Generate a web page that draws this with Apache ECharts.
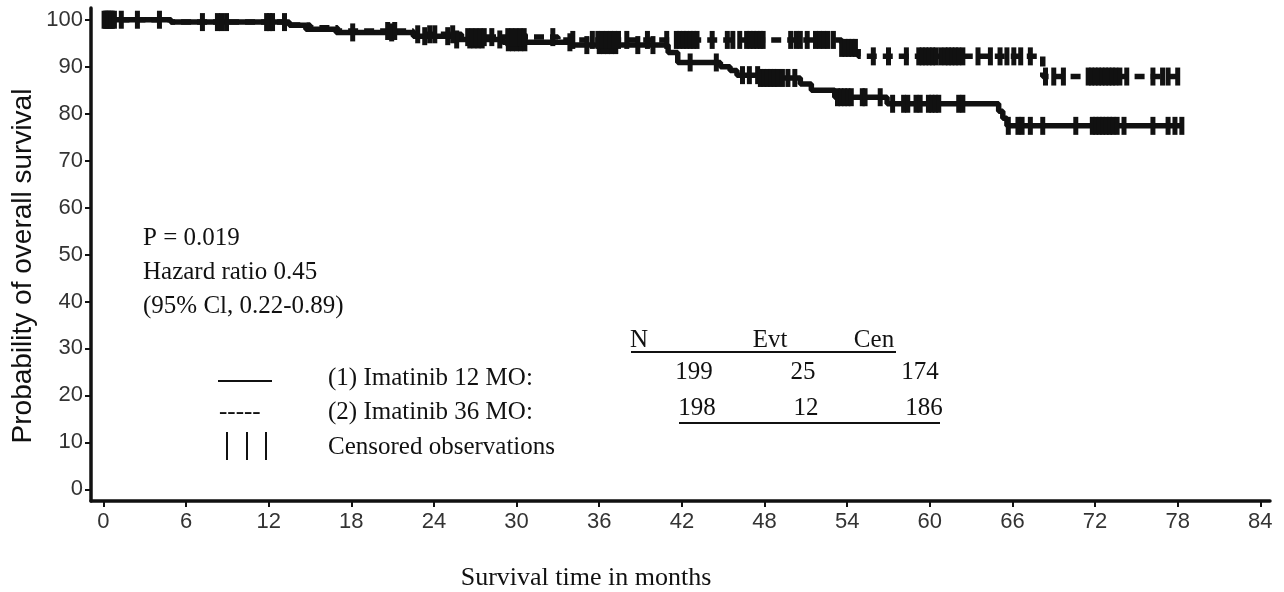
<!DOCTYPE html>
<html>
<head>
<meta charset="utf-8">
<script src="https://cdn.jsdelivr.net/npm/echarts@6/dist/echarts.min.js"></script>
<style>
html,body{margin:0;padding:0;background:#fff;}
#chart{width:1284px;height:592px;}
</style>
</head>
<body>
<div id="chart"></div>
<script>
// ---- Data ----
const xTicks = [0, 6, 12, 18, 24, 30, 36, 42, 48, 54, 60, 66, 72, 78, 84];
const yTicks = [0, 10, 20, 30, 40, 50, 60, 70, 80, 90, 100];

// (1) Imatinib 12 MO  – step times (months) and survival (%) after each step
const g1Times = [0, 4.9, 13.5, 14.7, 16.9, 22.5, 25.5, 29, 34, 41.0, 41.7, 44.8, 45.5, 46.0, 47.6, 50.6, 51.4, 53.1, 56.9, 65.0, 65.3, 65.6];
const g1Surv  = [100, 99.5, 98.8, 98.0, 97.3, 96.5, 95.8, 95.2, 94.6, 93.0, 90.9, 90.0, 89.2, 88.2, 87.6, 86.3, 85.0, 83.5, 82.1, 80.5, 79.0, 77.4];
const g1End = 78.4;
const g1Censor = [0.05, 0.25, 0.45, 0.65, 2.47, 7.19, 8.58, 12.06, 18.1, 20.93, 23.33, 25.0, 25.65,
  26.6, 26.9, 27.2, 27.5, 28.78, 29.4, 29.7, 30.0, 30.3, 30.6, 33.87, 35.1, 36.0, 36.3, 36.6, 36.9, 37.2,
  38.8, 39.9, 42.6, 44.5, 46.4, 46.9, 47.5, 47.7, 47.95, 48.2, 48.45, 48.7, 48.95, 49.3, 49.7, 50.2,
  53.3, 53.55, 53.8, 54.05, 54.3, 55.1, 55.3, 56.4, 57.3, 58.1, 58.4, 59.0, 59.3, 59.9, 60.15, 60.4, 60.65,
  62.1, 62.4, 65.7, 66.4, 66.7, 67.3, 68.2, 70.6, 71.8, 72.05, 72.3, 72.55, 72.8, 73.05, 73.3, 73.6, 74.1,
  76.2, 77.3, 77.8, 78.3];

// (2) Imatinib 36 MO
const g2Times = [0, 4.9, 13.5, 15.0, 17.0, 22.5, 26.0, 33.0, 53.6, 54.8, 68.2];
const g2Surv  = [100, 99.5, 98.9, 98.3, 97.6, 96.9, 96.3, 95.7, 94.0, 92.2, 87.9];
const g2End = 78.0;
const g2Censor = [0.15, 0.35, 0.55, 0.8, 1.3, 4.07, 8.28, 8.94, 11.85, 12.28, 13.15, 20.64, 21.15, 22.82,
  23.69, 24.06, 25.36, 26.45, 26.75, 27.05, 27.35, 27.65, 28.2, 29.36, 29.65, 29.95, 30.25, 30.55, 32.63,
  34.08, 35.5, 35.9, 36.2, 36.5, 36.8, 37.1, 37.4, 38.0, 39.5, 40.9, 41.6, 41.85, 42.1, 42.35, 42.6, 42.85,
  43.1, 44.2, 45.3, 45.7, 46.2, 46.7, 46.95, 47.2, 47.45, 47.7, 47.9, 49.9, 50.3, 50.6, 51.1, 51.7, 52.0,
  52.3, 52.6, 53.0, 53.6, 53.85, 54.1, 54.35, 54.6, 55.9, 57.0, 58.3, 59.2, 59.45, 59.7, 59.95, 60.2, 60.45,
  60.8, 61.1, 61.35, 61.6, 61.85, 62.1, 62.4, 63.5, 64.4, 65.1, 65.6, 66.1, 66.6, 67.3, 68.4, 69.0, 69.7,
  71.5, 71.75, 72.0, 72.25, 72.5, 72.75, 73.0, 73.25, 73.5, 73.8, 74.3, 76.2, 76.9, 77.3, 78.0];

const statLines = ['P = 0.019', 'Hazard ratio 0.45', '(95% Cl, 0.22-0.89)'];
const groupLabels = ['(1) Imatinib 12 MO:', '(2) Imatinib 36 MO:', 'Censored observations'];
const tableHeader = ['N', 'Evt', 'Cen'];
const tableRow1 = ['199', '25', '174'];
const tableRow2 = ['198', '12', '186'];
const xTitle = 'Survival time in months';
const yTitle = 'Probability of overall survival';

// ---- helpers ----
function stepData(times, surv, end) {
  const d = times.map((t, i) => [t, surv[i]]);
  d.push([end, surv[surv.length - 1]]);
  return d;
}
function survAt(times, surv, t) {
  let s = surv[0];
  for (let i = 0; i < times.length; i++) { if (times[i] <= t) s = surv[i]; }
  return s;
}
const censor1 = g1Censor.map(t => [t, survAt(g1Times, g1Surv, t)]);
const censor2 = g2Censor.map(t => [t, survAt(g2Times, g2Surv, t)]);

const SANS = '"Liberation Sans", Arial, sans-serif';
const SERIF = '"Liberation Serif", "Times New Roman", serif';
const INK = '#111';

const chart = echarts.init(document.getElementById('chart'), null, {renderer: 'canvas'});

function txt(text, x, y, opts) {
  return {
    type: 'text', x: x, y: y, silent: true,
    style: Object.assign({text: text, fontFamily: SERIF, fontSize: 25, fill: INK,
      textAlign: 'left', textVerticalAlign: 'middle'}, opts || {})
  };
}
function ln(x1, y1, x2, y2, w) {
  return {type: 'line', silent: true, shape: {x1: x1, y1: y1, x2: x2, y2: y2},
    style: {stroke: INK, lineWidth: w || 2}};
}

const graphics = [
  Object.assign(txt(yTitle, 23, 266, {fontFamily: SANS, fontSize: 28, textAlign: 'center', fill: '#111'}), {rotation: Math.PI / 2}),
  txt(xTitle, 586, 578, {textAlign: 'center', fontSize: 26}),
  txt(statLines[0], 143, 238),
  txt(statLines[1], 143, 272),
  txt(statLines[2], 143, 306),
  ln(218, 381, 272, 381, 2),
  txt('-----', 219, 412, {}),
  ln(227, 432, 227, 460, 2), ln(247, 432, 247, 460, 2), ln(266, 432, 266, 460, 2),
  txt(groupLabels[0], 328, 378),
  txt(groupLabels[1], 328, 412),
  txt(groupLabels[2], 328, 447),
  txt(tableHeader[0], 639, 340, {textAlign: 'center'}),
  txt(tableHeader[1], 770, 340, {textAlign: 'center'}),
  txt(tableHeader[2], 874, 340, {textAlign: 'center'}),
  ln(631, 352, 896, 352, 2),
  txt(tableRow1[0], 694, 372, {textAlign: 'center'}),
  txt(tableRow1[1], 803, 372, {textAlign: 'center'}),
  txt(tableRow1[2], 920, 372, {textAlign: 'center'}),
  txt(tableRow2[0], 697, 408, {textAlign: 'center'}),
  txt(tableRow2[1], 806, 408, {textAlign: 'center'}),
  txt(tableRow2[2], 924, 408, {textAlign: 'center'}),
  ln(679, 423, 940, 423, 2)
];

chart.setOption({
  animation: false,
  backgroundColor: '#fff',
  grid: {left: 91, right: 14, top: 8, bottom: 91, containLabel: false},
  xAxis: {
    type: 'value', min: -0.9, max: 84.7,
    splitLine: {show: false},
    axisLine: {show: true, onZero: false, lineStyle: {color: INK, width: 3.5}},
    axisTick: {show: true, length: 6, customValues: xTicks, lineStyle: {color: INK, width: 2}},
    axisLabel: {customValues: xTicks, fontFamily: SANS, fontSize: 22, color: '#333', margin: 10}
  },
  yAxis: {
    type: 'value', min: -2.5, max: 102.5,
    splitLine: {show: false},
    axisLine: {show: true, onZero: false, lineStyle: {color: INK, width: 3.5}},
    axisTick: {show: true, length: 6, customValues: yTicks, lineStyle: {color: INK, width: 2}},
    axisLabel: {customValues: yTicks, fontFamily: SANS, fontSize: 22, color: '#333', margin: 8}
  },
  graphic: graphics,
  series: [
    {
      type: 'line', name: '(1) Imatinib 12 MO', step: 'end', showSymbol: false, symbol: 'none',
      data: stepData(g1Times, g1Surv, g1End),
      lineStyle: {color: INK, width: 5.5, type: 'solid', opacity: 1}, z: 2
    },
    {
      type: 'line', name: '(2) Imatinib 36 MO', step: 'end', showSymbol: false, symbol: 'none',
      data: stepData(g2Times, g2Surv, g2End),
      lineStyle: {color: INK, width: 5.5, type: [10, 6], opacity: 1}, z: 2
    },
    {
      type: 'scatter', name: 'censor1', data: censor1, symbol: 'rect', symbolSize: [5, 18],
      itemStyle: {color: INK, opacity: 1}, z: 3, silent: true
    },
    {
      type: 'scatter', name: 'censor2', data: censor2, symbol: 'rect', symbolSize: [5, 18],
      itemStyle: {color: INK, opacity: 1}, z: 3, silent: true
    }
  ]
});
</script>
</body>
</html>
